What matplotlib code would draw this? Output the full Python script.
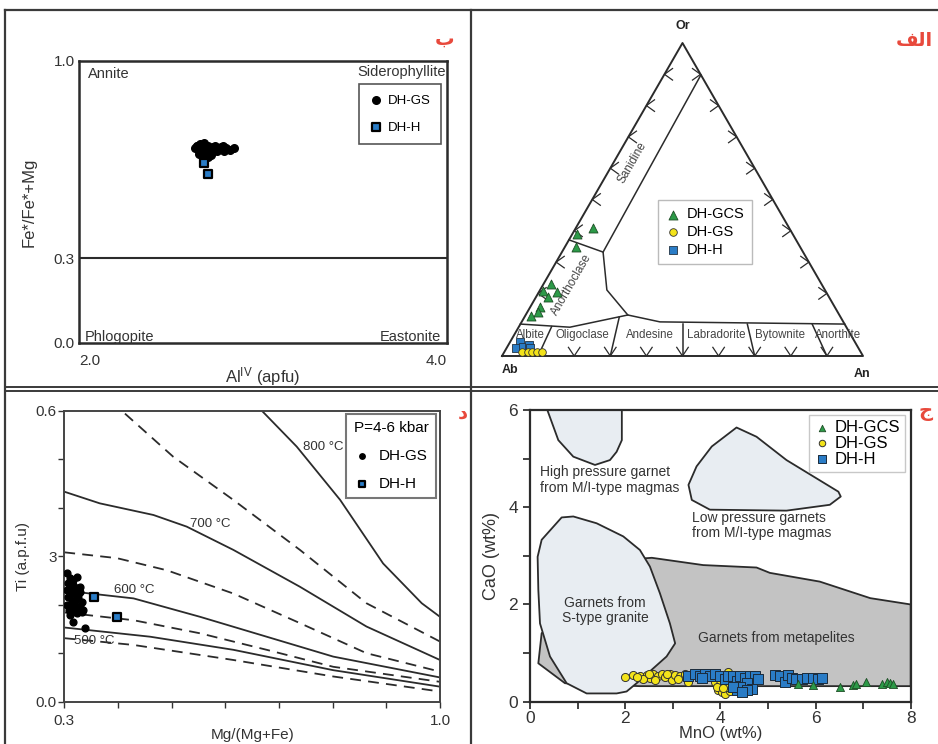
import numpy as np
import matplotlib
matplotlib.use('Agg')
import matplotlib.pyplot as plt
from matplotlib.patches import Polygon
from matplotlib.lines import Line2D

plt.rcParams['font.family'] = ['Liberation Sans', 'DejaVu Sans']
plt.rcParams['mathtext.default'] = 'regular'

# ---------------- DATA ----------------
# (b) biotite classification
biot_gs_al = [2.63, 2.64, 2.65, 2.66, 2.67, 2.68, 2.69, 2.70, 2.71, 2.72, 2.73, 2.74, 2.76, 2.78,
              2.80, 2.82, 2.84, 2.65, 2.67, 2.69, 2.71, 2.66, 2.68, 2.75, 2.79, 2.70, 2.72, 2.64, 2.77]
biot_gs_fe = [0.690, 0.700, 0.680, 0.705, 0.690, 0.700, 0.675, 0.700, 0.690, 0.680, 0.695, 0.700, 0.690, 0.700,
              0.690, 0.685, 0.690, 0.670, 0.665, 0.685, 0.670, 0.695, 0.710, 0.680, 0.680, 0.660, 0.665, 0.700, 0.695]
biot_h_al = [2.68, 2.70]
biot_h_fe = [0.640, 0.600]

# (alef) feldspar ternary (Ab, An, Or) in %
fsp_gcs = [(59.6, 1.3, 39.1), (54.5, 4.7, 40.8), (62.1, 3.0, 34.9), (78.3, 0.9, 20.8), (75.0, 2.0, 23.0),
           (74.6, 5.0, 20.4), (77.7, 3.4, 18.9), (81.7, 2.5, 15.8), (82.9, 3.1, 14.0), (85.6, 1.6, 12.8)]
fsp_gs = [(93.9, 4.8, 1.3), (92.1, 6.6, 1.3), (91.1, 7.6, 1.3), (89.7, 9.0, 1.3), (88.4, 10.3, 1.3)]
fsp_h = [(92.7, 2.7, 4.6), (94.8, 2.8, 2.4), (92.6, 4.4, 3.0), (90.7, 5.8, 3.5), (91.0, 6.5, 2.5)]
tern_names = ['Ab', 'An', 'Or']
plag_names = ['Albite', 'Oligoclase', 'Andesine', 'Labradorite', 'Bytownite', 'Anorthite']
plag_label_an = [7.8, 22.2, 41.0, 59.3, 77.0, 93.0]
plag_dividers_an = [10, 30, 50, 70, 90]
plag_dividers_top_or = [9.4, 12.5, 10.2, 10.2, 10.2]
# field boundaries (Ab, An, Or)
bound_plag = [(89.8, 0.0, 10.2), (76.6, 14.2, 9.2), (58.6, 28.3, 13.1), (50.8, 38.3, 10.9), (0.0, 89.8, 10.2)]
bound_alk = [(58.6, 28.3, 13.1), (60.4, 18.5, 21.1), (55.4, 11.4, 33.2), (0.0, 10.2, 89.8)]
bound_ano_san = [(62.9, 0.0, 37.1), (55.4, 11.4, 33.2)]
chevron_levels = [20, 30, 40, 50, 60, 70, 80, 90]

# (dal) Ti in biotite thermometer
mg_gs = [0.3044, 0.3106, 0.3137, 0.3230, 0.3075, 0.3168, 0.3230, 0.3106, 0.3199, 0.3292, 0.3075, 0.3137,
         0.3261, 0.3323, 0.3106, 0.3199, 0.3292, 0.3137, 0.3230, 0.3323, 0.3106, 0.3199, 0.3261, 0.3044,
         0.3168, 0.3354, 0.3094, 0.3292, 0.3168, 0.3385, 0.3044, 0.3137]
ti_gs = [0.2647, 0.2544, 0.2509, 0.2578, 0.2441, 0.2406, 0.2337, 0.2303, 0.2234, 0.2269, 0.2166, 0.2097,
         0.2131, 0.2063, 0.1994, 0.1960, 0.1960, 0.1856, 0.1822, 0.1856, 0.1788, 0.2028, 0.2200, 0.2303,
         0.2509, 0.1891, 0.1891, 0.2372, 0.1650, 0.1513, 0.2000, 0.2234]
mg_h = [0.356, 0.398]
ti_h = [0.2165, 0.175]

iso_800_x = [0.668, 0.733, 0.814, 0.894, 0.966, 1.0]
iso_800_y = [0.600, 0.526, 0.416, 0.285, 0.203, 0.175]
iso_750_x = [0.413, 0.503, 0.615, 0.739, 0.863, 1.0]
iso_750_y = [0.594, 0.505, 0.416, 0.313, 0.203, 0.124]
iso_700_x = [0.300, 0.366, 0.466, 0.528, 0.615, 0.739, 0.863, 1.0]
iso_700_y = [0.433, 0.409, 0.385, 0.361, 0.313, 0.237, 0.155, 0.086]
iso_650_x = [0.300, 0.398, 0.491, 0.615, 0.739, 0.863, 1.0]
iso_650_y = [0.308, 0.296, 0.271, 0.223, 0.162, 0.100, 0.062]
iso_600_x = [0.300, 0.429, 0.553, 0.677, 0.801, 1.0]
iso_600_y = [0.229, 0.213, 0.175, 0.134, 0.093, 0.050]
iso_550_x = [0.300, 0.429, 0.553, 0.677, 0.801, 1.0]
iso_550_y = [0.184, 0.168, 0.141, 0.107, 0.072, 0.041]
iso_500_x = [0.300, 0.460, 0.615, 0.801, 1.0]
iso_500_y = [0.153, 0.134, 0.107, 0.065, 0.031]
iso_450_x = [0.300, 0.429, 0.615, 0.801, 1.0]
iso_450_y = [0.131, 0.117, 0.086, 0.052, 0.021]

# (jim) garnet MnO vs CaO
mno_gcs = [5.64, 5.95, 6.51, 6.79, 6.86, 7.07, 7.39, 7.50, 7.56, 7.63]
cao_gcs = [0.36, 0.34, 0.30, 0.34, 0.37, 0.40, 0.37, 0.40, 0.38, 0.36]
mno_gs = [2.00, 2.17, 2.31, 2.45, 2.52, 2.59, 2.70, 2.77, 2.84, 2.94, 2.98, 3.05, 3.15, 3.26, 3.33, 3.37,
          2.38, 2.62, 2.88, 3.10, 2.24, 2.50, 3.89, 3.99, 4.17, 3.96, 4.03, 4.10, 4.20, 4.13, 4.24, 3.92,
          4.06, 3.95, 4.08]
cao_gs = [0.50, 0.55, 0.53, 0.55, 0.48, 0.56, 0.52, 0.58, 0.50, 0.56, 0.44, 0.54, 0.52, 0.56, 0.40, 0.54,
          0.46, 0.45, 0.57, 0.46, 0.50, 0.57, 0.40, 0.36, 0.62, 0.24, 0.19, 0.16, 0.23, 0.30, 0.40, 0.30,
          0.28, 0.52, 0.45]
mno_h = [3.33, 3.47, 3.57, 3.68, 3.78, 3.89, 3.99, 4.10, 4.17, 4.27, 4.34, 4.41, 4.52, 4.62, 4.73, 4.55,
         4.66, 4.34, 4.41, 4.55, 4.27, 5.15, 5.25, 5.36, 5.43, 5.50, 5.60, 5.71, 5.82, 5.95, 6.06, 6.13,
         4.45, 3.62, 4.80]
cao_h = [0.52, 0.56, 0.52, 0.57, 0.53, 0.57, 0.52, 0.46, 0.53, 0.52, 0.43, 0.53, 0.48, 0.53, 0.52, 0.38,
         0.26, 0.24, 0.30, 0.24, 0.30, 0.55, 0.52, 0.41, 0.55, 0.48, 0.46, 0.46, 0.48, 0.48, 0.46, 0.48,
         0.20, 0.48, 0.47]

hp_x = [0.364, 0.595, 0.91, 1.366, 1.68, 1.82, 1.93, 1.93]
hp_y = [6.0, 5.38, 5.04, 4.87, 4.97, 5.14, 5.38, 6.0]
lp_x = [4.34, 3.82, 3.50, 3.33, 3.40, 3.78, 5.39, 6.30, 6.53, 6.48, 5.39, 4.76]
lp_y = [5.64, 5.25, 4.84, 4.46, 4.15, 3.95, 3.93, 4.05, 4.22, 4.32, 4.97, 5.45]
st_x = [0.665, 0.91, 1.40, 1.96, 2.31, 2.52, 2.73, 2.94, 3.05, 2.87, 2.24, 2.03, 1.82, 1.19, 0.77, 0.42,
        0.21, 0.175, 0.16, 0.245]
st_y = [3.79, 3.81, 3.67, 3.40, 3.12, 2.78, 2.23, 1.61, 1.20, 0.93, 0.38, 0.21, 0.17, 0.17, 0.38, 0.93,
        1.61, 2.30, 2.98, 3.33]
mp_x = [0.245, 0.175, 0.735, 2.30, 8.0, 8.0, 7.15, 6.09, 5.04, 4.76, 3.64, 2.56, 2.42]
mp_y = [1.41, 0.79, 0.38, 0.32, 0.32, 2.00, 2.13, 2.47, 2.65, 2.76, 2.81, 2.96, 2.95]

# ---------------- STYLE ----------------
W, H = 938, 744
GREEN = '#2c9a48'
YELLOW = '#f3e31a'
BLUE = '#2a7cc6'
RED = '#e8493c'
LINE = '#2b2b2b'
LIGHT = '#e8edf2'
GRAY = '#c3c3c3'

fig = plt.figure(figsize=(W / 100, H / 100), dpi=100)


def fax(l, t, r, b):
    return fig.add_axes([l / W, 1 - b / H, (r - l) / W, (b - t) / H])


def fline(xs, ys, **kw):
    fig.add_artist(Line2D([x / W for x in xs], [1 - y / H for y in ys],
                          transform=fig.transFigure, color='#3a3a3a', **kw))


# panel frames
fline([5, 938], [10, 10], lw=1.6)
fline([5, 5], [10, 744], lw=1.6)
fline([471, 471], [10, 744], lw=1.6)
fline([5, 938], [387, 387], lw=1.4)
fline([5, 938], [390.5, 390.5], lw=1.4)

# ---------------- (b) biotite ----------------
ax1 = fax(79, 61, 447, 343)
ax1.set_xlim(2, 4)
ax1.set_ylim(0, 1)
for s in ax1.spines.values():
    s.set_linewidth(1.8)
    s.set_color(LINE)
ax1.axhline(0.3, color=LINE, lw=1.5)
ax1.scatter(biot_gs_al, biot_gs_fe, s=30, c='black', zorder=3, label='DH-GS')
ax1.scatter(biot_h_al, biot_h_fe, s=32, marker='s', c=BLUE, edgecolors='black', linewidths=1.6,
            zorder=4, label='DH-H')
ax1.set_xticks([2.0, 4.0])
ax1.set_xticklabels(['2.0', '4.0'])
ax1.set_yticks([0.0, 0.3, 1.0])
ax1.set_yticklabels(['0.0', '0.3', '1.0'])
ax1.tick_params(length=0, labelsize=11, colors='#333')
ax1.tick_params(axis='x', pad=8)
ax1.tick_params(axis='y', pad=3)
xl = ax1.get_xticklabels()
xl[0].set_ha('left')
xl[1].set_ha('right')
ax1.set_xlabel(r'Al$^{IV}$ (apfu)', fontsize=12, color='#333', labelpad=-2)
ax1.set_ylabel('Fe*/Fe*+Mg', fontsize=12, color='#333', labelpad=12)
ax1.text(2.05, 0.955, 'Annite', fontsize=10.5, color='#333', va='center')
ax1.text(3.995, 0.962, 'Siderophyllite', fontsize=10.5, color='#333', va='center', ha='right')
ax1.text(2.03, 0.022, 'Phlogopite', fontsize=10.5, color='#333', va='center')
ax1.text(3.97, 0.022, 'Eastonite', fontsize=10.5, color='#333', va='center', ha='right')
lg1 = ax1.legend(loc='upper right', bbox_to_anchor=(0.984, 0.918), fontsize=9.5, frameon=True,
                 fancybox=False, labelspacing=1.1, handletextpad=0.4, borderpad=0.8, handlelength=1.0,
                 borderaxespad=0)
lg1.get_frame().set_edgecolor(LINE)
lg1.get_frame().set_linewidth(1.2)

# ---------------- (alef) ternary ----------------
S3 = np.sqrt(3) / 2


def tern(pts):
    a = np.asarray(pts, dtype=float)
    s = a.sum(axis=1)
    return (a[:, 1] + a[:, 2] / 2) / s, a[:, 2] * S3 / s


axT = fax(502, 43, 863, 356)
axT.set_xlim(0, 1)
axT.set_ylim(0, S3)
axT.axis('off')
axT.plot([0, 1, 0.5, 0], [0, 0, S3, 0], color=LINE, lw=1.4, clip_on=False)
for bnd in (bound_plag, bound_alk, bound_ano_san):
    bx, by = tern(bnd)
    axT.plot(bx, by, color=LINE, lw=1.1)
for an, top in zip(plag_dividers_an, plag_dividers_top_or):
    bx, by = tern([(100 - an, an, 0), ((100 - top) * (1 - an / 100), (100 - top) * an / 100, top)])
    axT.plot(bx, by, color=LINE, lw=1.1)
d = 0.016
for v in chevron_levels:
    f = v / 100
    axT.plot([f - d, f, f + d], [1.5 * d, 0, 1.5 * d], color=LINE, lw=0.9)
    lx, ly = tern([(100 - v, 0, v)])
    axT.plot([lx[0] + 1.4 * d, lx[0], lx[0] + 1.4 * d], [ly[0] + d, ly[0], ly[0] - d], color=LINE, lw=0.9)
    rx, ry = tern([(0, 100 - v, v)])
    axT.plot([rx[0] - 1.4 * d, rx[0], rx[0] - 1.4 * d], [ry[0] + d, ry[0], ry[0] - d], color=LINE, lw=0.9)
gx, gy = tern(fsp_gcs)
axT.scatter(gx, gy, marker='^', s=42, c=GREEN, edgecolors='#1d4d25', linewidths=0.6, zorder=4, label='DH-GCS')
yx, yy = tern(fsp_gs)
axT.scatter(yx, yy, marker='o', s=30, c=YELLOW, edgecolors='#333', linewidths=0.6, zorder=4, label='DH-GS')
hx, hy = tern(fsp_h)
axT.scatter(hx, hy, marker='s', s=34, c=BLUE, edgecolors='#234', linewidths=0.6, zorder=3, label='DH-H')
axT.text(0.5, 0.912, tern_names[2], fontsize=9, fontweight='bold', ha='center', va='center', color='#222')
axT.text(0.022, -0.04, tern_names[0], fontsize=9, fontweight='bold', ha='center', va='center', color='#222')
axT.text(0.997, -0.05, tern_names[1], fontsize=9, fontweight='bold', ha='center', va='center', color='#222')
for name, an in zip(plag_names, plag_label_an):
    axT.text(an / 100, 0.058, name, fontsize=8.3, ha='center', va='center', color='#444')
axT.text(0.36, 0.534, 'Sanidine', fontsize=8.5, rotation=60, ha='center', va='center', color='#444')
axT.text(0.193, 0.196, 'Anorthoclase', fontsize=8.5, rotation=60, ha='center', va='center', color='#444')
lgT = axT.legend(loc='upper left', bbox_to_anchor=(0.432, 0.498), fontsize=10.5, frameon=True,
                 fancybox=False, labelspacing=0.25, handletextpad=0.5, borderpad=0.5, handlelength=1.0,
                 borderaxespad=0)
lgT.get_frame().set_edgecolor('#aaaaaa')
lgT.get_frame().set_linewidth(1.0)

# ---------------- (dal) Ti thermometer ----------------
axB = fax(64.3, 410.7, 440, 701.7)
axB.set_xlim(0.3, 1.0)
axB.set_ylim(0, 0.6)
for s in axB.spines.values():
    s.set_linewidth(1.4)
    s.set_color('#444')
solid = dict(color=LINE, lw=1.3)
dash = dict(color=LINE, lw=1.3, dashes=(6, 4))
axB.plot(iso_800_x, iso_800_y, **solid)
axB.plot(iso_750_x, iso_750_y, **dash)
axB.plot(iso_700_x, iso_700_y, **solid)
axB.plot(iso_650_x, iso_650_y, **dash)
axB.plot(iso_600_x, iso_600_y, **solid)
axB.plot(iso_550_x, iso_550_y, **dash)
axB.plot(iso_500_x, iso_500_y, **solid)
axB.plot(iso_450_x, iso_450_y, **dash)
lab = dict(fontsize=9.5, color='#333', va='center')
axB.text(0.745, 0.526, '800 °C', **lab)
axB.text(0.535, 0.366, '700 °C', **lab)
axB.text(0.392, 0.23, '600 °C', **lab)
axB.text(0.318, 0.126, '500 °C', **lab)
axB.scatter(mg_gs, ti_gs, s=24, c='black', zorder=3, label='DH-GS')
axB.scatter(mg_h, ti_h, s=34, marker='s', c=BLUE, edgecolors='black', linewidths=1.6, zorder=4, label='DH-H')
axB.set_xticks(np.arange(0.3, 1.01, 0.1))
axB.set_xticklabels(['0.3', '', '', '', '', '', '', '1.0'])
axB.set_yticks(np.arange(0, 0.61, 0.1))
axB.set_yticklabels(['0.0', '', '', '3', '', '', '0.6'])
axB.tick_params(direction='out', length=4, width=1.0, labelsize=11, colors='#333')
axB.tick_params(axis='x', pad=5)
axB.tick_params(axis='y', pad=1.5)
axB.set_xlabel('Mg/(Mg+Fe)', fontsize=11, color='#333', labelpad=0)
axB.set_ylabel('Ti (a.p.f.u)', fontsize=11, color='#333', labelpad=4)
lgB = axB.legend(loc='upper right', bbox_to_anchor=(0.99, 0.99), title='P=4-6 kbar', fontsize=11,
                 title_fontsize=11, frameon=True, fancybox=False, labelspacing=0.9, handletextpad=0.6,
                 borderpad=0.5, handlelength=1.0, markerscale=0.8, borderaxespad=0)
lgB.get_frame().set_edgecolor('#555')
lgB.get_frame().set_linewidth(1.5)

# ---------------- (jim) garnet ----------------
axR = fax(530, 410, 910.7, 701.7)
axR.set_xlim(0, 8)
axR.set_ylim(0, 6)
for s in axR.spines.values():
    s.set_linewidth(1.6)
    s.set_color(LINE)
poly = dict(edgecolor=LINE, lw=1.3, joinstyle='round')
axR.add_patch(Polygon(np.column_stack([mp_x, mp_y]), closed=True, facecolor=GRAY, **poly))
axR.add_patch(Polygon(np.column_stack([st_x, st_y]), closed=True, facecolor=LIGHT, **poly))
axR.add_patch(Polygon(np.column_stack([hp_x, hp_y]), closed=True, facecolor=LIGHT, **poly))
axR.add_patch(Polygon(np.column_stack([lp_x, lp_y]), closed=True, facecolor=LIGHT, **poly))
rt = dict(fontsize=10, color='#333', va='center', linespacing=1.1)
axR.text(0.21, 4.56, 'High pressure garnet\nfrom M/I-type magmas', **rt)
axR.text(3.40, 3.63, 'Low pressure garnets\nfrom M/I-type magmas', **rt)
axR.text(1.58, 1.88, 'Garnets from\nS-type granite', ha='center', **rt)
axR.text(5.18, 1.30, 'Garnets from metapelites', ha='center', **rt)
axR.scatter(mno_gs, cao_gs, marker='o', s=34, c=YELLOW, edgecolors='#333', linewidths=0.7, zorder=3,
            label='DH-GS')
axR.scatter(mno_h, cao_h, marker='s', s=44, c=BLUE, edgecolors='#1b2b3b', linewidths=0.7, zorder=4,
            label='DH-H')
axR.scatter(mno_gcs, cao_gcs, marker='^', s=34, c=GREEN, edgecolors='#1d4d25', linewidths=0.6, zorder=5,
            label='DH-GCS')
hnd, lbl = axR.get_legend_handles_labels()
order = [2, 0, 1]
lgR = axR.legend([hnd[i] for i in order], [lbl[i] for i in order], loc='upper right',
                 bbox_to_anchor=(0.985, 0.983), fontsize=12, frameon=True, fancybox=False,
                 labelspacing=0.05, handletextpad=0.3, borderpad=0.3, handlelength=0.9, markerscale=0.8,
                 borderaxespad=0)
lgR.get_frame().set_edgecolor('#bbbbbb')
lgR.get_frame().set_linewidth(1.0)
axR.set_xticks(np.arange(0, 8.1, 1))
axR.set_xticklabels(['0', '', '2', '', '4', '', '6', '', '8'])
axR.set_yticks(np.arange(0, 6.1, 1))
axR.set_yticklabels(['0', '', '2', '', '4', '', '6'])
axR.tick_params(direction='out', length=5, width=1.3, labelsize=12.5, colors='#333')
axR.tick_params(axis='x', pad=1.5)
axR.set_xlabel('MnO (wt%)', fontsize=12, color='#333', labelpad=0.5)
axR.set_ylabel('CaO (wt%)', fontsize=13, color='#333', labelpad=6)

# Arabic panel letters (drawn last, on top)
arab = dict(color=RED, fontsize=14, fontweight='bold', family=['DejaVu Sans'], ha='center', va='center',
            zorder=10)
fig.text(445 / W, 1 - 39 / H, '\u0628', **arab)
fig.text(914 / W, 1 - 40 / H, '\uFED2\uFEDF\uFE8D', **arab)
fig.text(463 / W, 1 - 413 / H, '\u062F', **arab)
fig.text(926 / W, 1 - 412 / H, '\u062C', **arab)

fig.savefig('out.png', dpi=100)
